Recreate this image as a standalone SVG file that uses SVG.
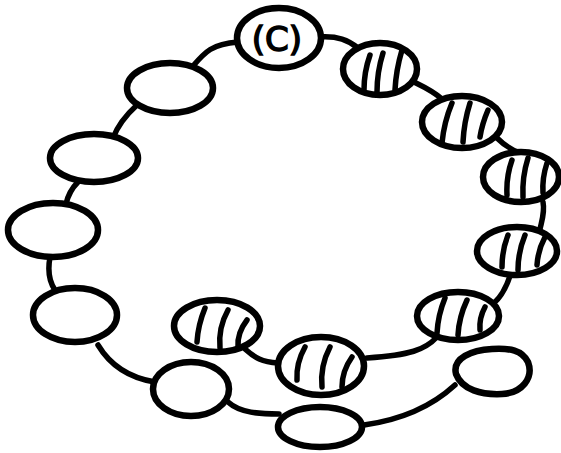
<svg xmlns="http://www.w3.org/2000/svg" width="561" height="453" viewBox="0 0 561 453">
<style>
.b{fill:#fff;stroke:#000;stroke-width:6.5}
.s{fill:none;stroke:#000;stroke-width:5.5;stroke-linecap:round}
.c{fill:none;stroke:#000;stroke-width:5.5;stroke-linecap:round}
.t{font-family:"DejaVu Sans",sans-serif;font-size:34px;fill:#000;stroke:#000;stroke-width:1.5}
</style>
<rect width="561" height="453" fill="#fff"/>
<g id="connectors">
<path class="c" d="M193,66 C205,52 212,44 238,42"/>
<path class="c" d="M320,37 C338,36 348,40 358,48"/>
<path class="c" d="M410,80 C422,86 432,90 442,99"/>
<path class="c" d="M497,138 C505,146 512,150 520,153"/>
<path class="c" d="M543,202 C545,212 542,220 540,229"/>
<path class="c" d="M510,276 C506,288 502,296 494,303"/>
<path class="c" d="M437,337 C425,350 410,355 367,358"/>
<path class="c" d="M245,349 C255,358 262,362 278,363"/>
<path class="c" d="M137,105 C126,115 118,125 113,138"/>
<path class="c" d="M78,182 C72,188 68,195 66,204"/>
<path class="c" d="M50,257 C48,268 48,280 55,290"/>
<path class="c" d="M98,345 C110,365 130,378 155,382"/>
<path class="c" d="M228,402 C240,413 260,414 279,414"/>
<path class="c" d="M364,425 C400,420 430,408 455,385"/>
</g>
<g id="bead-c">
<ellipse class="b" cx="279" cy="38" rx="42" ry="30"/>
<text class="t" x="277" y="51" text-anchor="middle">(C)</text>
</g>
<g id="bead-s1">
<ellipse class="b" cx="380" cy="69" rx="37" ry="26"/>
<path class="s" d="M370,55 Q364,72 364,90"/>
<path class="s" d="M383,53 Q377,72 377,92"/>
<path class="s" d="M402,50 Q396,70 395,90"/>
</g>
<g id="bead-s2">
<ellipse class="b" cx="462" cy="122" rx="40" ry="26"/>
<path class="s" d="M452,103 Q444,122 442,143"/>
<path class="s" d="M470,103 Q464,122 463,142"/>
<path class="s" d="M488,110 Q482,124 480,137"/>
</g>
<g id="bead-s3">
<ellipse class="b" cx="521" cy="177" rx="38" ry="25"/>
<path class="s" d="M512,160 Q506,177 507,195"/>
<path class="s" d="M528,158 Q522,177 523,197"/>
<path class="s" d="M547,163 Q542,178 543,193"/>
</g>
<g id="bead-s4">
<ellipse class="b" cx="517" cy="251" rx="40" ry="24"/>
<path class="s" d="M508,235 Q502,250 502,267"/>
<path class="s" d="M525,235 Q518,252 518,270"/>
<path class="s" d="M545,237 Q538,250 537,265"/>
</g>
<g id="bead-s5">
<ellipse class="b" cx="458" cy="316" rx="41" ry="24"/>
<path class="s" d="M445,298 Q438,315 437,333"/>
<path class="s" d="M467,300 Q459,317 458,335"/>
<path class="s" d="M485,307 Q479,318 480,330"/>
</g>
<g id="bead-s6">
<ellipse class="b" cx="321" cy="366" rx="43" ry="29"/>
<path class="s" d="M305,347 Q296,363 297,380"/>
<path class="s" d="M330,347 Q320,366 322,387"/>
<path class="s" d="M352,357 Q342,371 342,387"/>
</g>
<g id="bead-s7">
<ellipse class="b" cx="217" cy="326" rx="43" ry="26"/>
<path class="s" d="M205,308 Q198,325 197,342"/>
<path class="s" d="M228,310 Q218,328 220,348"/>
<path class="s" d="M247,320 Q237,333 238,347"/>
</g>
<g id="bead-l1"><ellipse class="b" cx="170" cy="88" rx="43" ry="25"/></g>
<g id="bead-l2"><ellipse class="b" cx="94" cy="158" rx="44" ry="24"/></g>
<g id="bead-l3"><ellipse class="b" cx="53" cy="230" rx="45" ry="27"/></g>
<g id="bead-l4"><ellipse class="b" cx="75" cy="315" rx="42" ry="27"/></g>
<g id="bead-b1"><ellipse class="b" cx="191" cy="389" rx="38" ry="27"/></g>
<g id="bead-b2"><ellipse class="b" cx="320" cy="427" rx="42" ry="20"/></g>
<g id="bead-b3"><path class="b" d="M456,374 C452,358 472,350 492,349 C510,348 522,350 528,362 C534,378 522,393 502,394 C482,395 462,390 456,374 Z"/></g>
</svg>
